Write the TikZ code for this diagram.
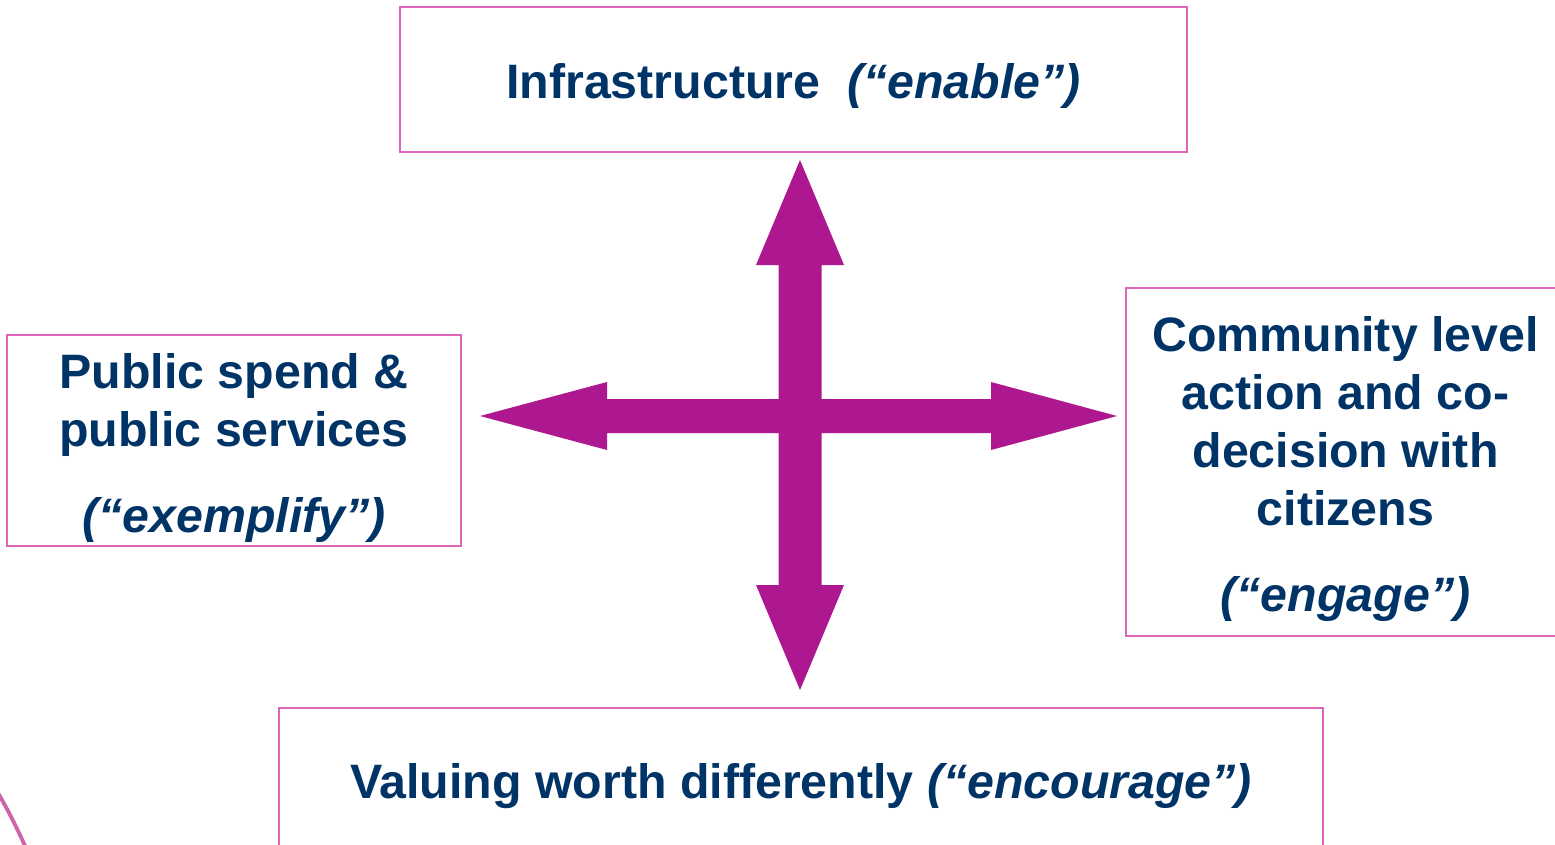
\documentclass[tikz,border=0pt]{standalone}
\usepackage{fontspec}
\setmainfont{Liberation Sans}
\definecolor{navy}{RGB}{0,51,102}
\definecolor{boxpink}{RGB}{221,102,187}
\definecolor{arrowmag}{RGB}{173,24,144}
\definecolor{arcpink}{RGB}{204,102,168}
\newcommand{\topstrut}{\rule{0pt}{28pt}}

\begin{document}
\begin{tikzpicture}[x=0.02cm, y=-0.02cm,
  box/.style={draw=boxpink, line width=1.1pt, text=navy, align=center, inner sep=0pt,
    font=\bfseries\fontsize{27.5}{33}\selectfont,
    execute at begin node={\rule{0pt}{27pt}}}]
\useasboundingbox (0,0) rectangle (1555,845);
\clip (0,0) rectangle (1555,845);
\coordinate (hub) at (800,416);

\node[box, minimum width=15.74cm, minimum height=2.9cm] (enable) at (793.5,79.5)
  {Infrastructure~~\textit{(“enable”)}};
\node[box, minimum width=9.08cm, minimum height=4.22cm] (exemplify) at (234,440.5)
  {\topstrut Public spend \&\\public services\\[16pt]\textit{(“exemplify”)}};
\node[box, minimum width=8.78cm, minimum height=6.96cm] (engage) at (1345.5,462)
  {\topstrut Community level\\action and co-\\decision with\\citizens\\[16pt]\textit{(“engage”)}};
\node[box, minimum width=20.88cm, minimum height=2.88cm] (encourage) at (801,780)
  {Valuing worth differently \textit{(“encourage”)}};

\fill[arrowmag]
       (hub) ++(-21.5,0)
  -- ++(0,-151)
  -- ++(-22.5,0)
  -- ++(44,-105)
  -- ++(44,105)
  -- ++(-22.5,0)
  -- ++(0,320)
  -- ++(22.5,0)
  -- ++(-44,105)
  -- ++(-44,-105)
  -- ++(22.5,0)
  -- cycle;
\fill[arrowmag]
       (hub) ++(0,-17)
  -- ++(191,0)
  -- ++(0,-17)
  -- ++(126,34)
  -- ++(-126,34)
  -- ++(0,-17)
  -- ++(-384,0)
  -- ++(0,17)
  -- ++(-127,-34)
  -- ++(127,-34)
  -- ++(0,17)
  -- cycle;

\draw[arcpink, line width=2.2pt] (-2,793) .. controls (8,810) and (17,828) .. (26,848);
\end{tikzpicture}
\end{document}
